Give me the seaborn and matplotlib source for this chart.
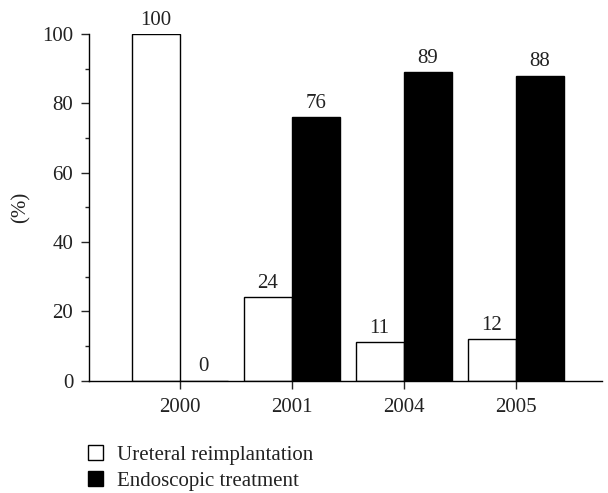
import matplotlib
matplotlib.use("Agg")
import matplotlib.pyplot as plt
import seaborn as sns
import pandas as pd
from matplotlib.patches import Patch
from matplotlib.ticker import MultipleLocator

years = ["2000", "2001", "2004", "2005"]
ureteral = [100, 24, 11, 12]
endoscopic = [0, 76, 89, 88]
series_names = ["Ureteral reimplantation", "Endoscopic treatment"]

df = pd.DataFrame({
    "year": years * 2,
    "value": ureteral + endoscopic,
    "treatment": [series_names[0]] * len(years) + [series_names[1]] * len(years),
})

sns.set_style("ticks")
plt.rcParams["font.family"] = ["Liberation Serif", "DejaVu Serif"]
FS = 15

fig = plt.figure(figsize=(6.08, 4.93), dpi=100)
ax = fig.add_axes([89 / 608, 1 - 380.5 / 493, 513 / 608, 346.5 / 493])

sns.barplot(data=df, x="year", y="value", hue="treatment",
            palette={series_names[0]: "white", series_names[1]: "black"},
            width=0.86, edgecolor="black", linewidth=1.0, ax=ax, legend=False)

for c in ax.containers:
    ax.bar_label(c, fontsize=FS, padding=3, color="#222222")

ax.set_ylim(0, 100)
ax.set_xlim(-0.81, 3.77)
ax.yaxis.set_major_locator(MultipleLocator(20))
ax.yaxis.set_minor_locator(MultipleLocator(10))
ax.tick_params(axis="both", which="major", labelsize=FS, length=5.8, width=1,
               direction="out", pad=5.5, labelcolor="#222222")
ax.tick_params(axis="x", which="major", pad=6.5)
ax.tick_params(axis="y", which="minor", length=3, width=1)
ax.set_xlabel("")
ax.set_ylabel("(%)", fontsize=FS, labelpad=8.5, color="#222222")
for s in ["top", "right"]:
    ax.spines[s].set_visible(False)
for s in ["left", "bottom"]:
    ax.spines[s].set_linewidth(1)
    ax.spines[s].set_color("black")

handles = [Patch(facecolor="white", edgecolor="black", linewidth=1, label=series_names[0]),
           Patch(facecolor="black", edgecolor="black", linewidth=1, label=series_names[1])]
leg = fig.legend(handles=handles, loc="upper left", bbox_to_anchor=(88 / 608, 1 - 445 / 493),
                 frameon=False, fontsize=FS, handlelength=0.72, handleheight=0.72,
                 handletextpad=0.65, labelspacing=0.32, borderpad=0, borderaxespad=0)
for t in leg.get_texts():
    t.set_color("#222222")

fig.savefig("out.png", dpi=100)
